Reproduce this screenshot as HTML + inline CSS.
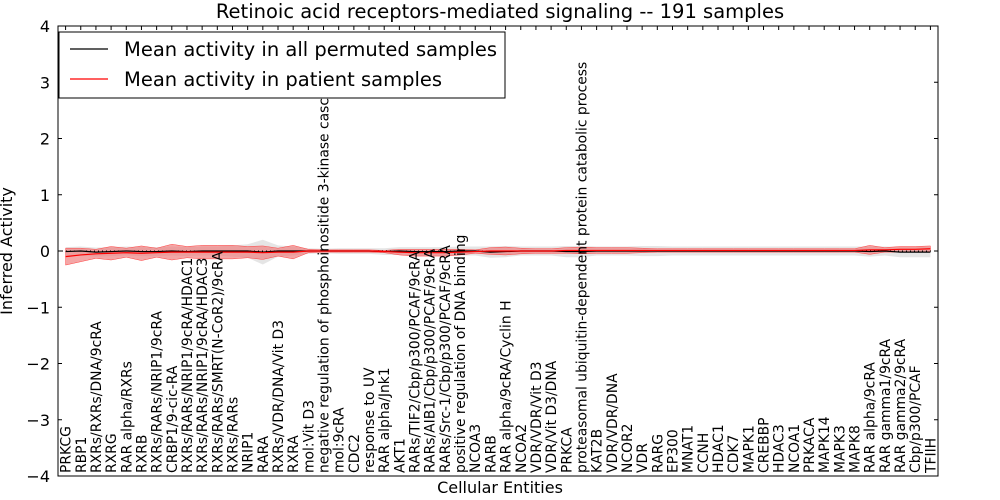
<!DOCTYPE html>
<html><head><meta charset="utf-8"><style>
body{margin:0;background:#fff;}
svg{display:block;font-family:"DejaVu Sans","Liberation Sans",sans-serif;}
</style></head><body>
<svg id="chart" width="1000" height="500">
<rect width="1000" height="500" fill="#fff"/>
<text x="500" y="18" font-size="19.5" text-anchor="middle">Retinoic acid receptors-mediated signaling -- 191 samples</text>
<g id="bands"></g>
<g id="lines"></g>
<g id="axes"></g>
<g id="xlabels"></g>
<text x="500" y="493" font-size="16" text-anchor="middle">Cellular Entities</text>
<text transform="translate(12,251) rotate(-90)" font-size="16" text-anchor="middle">Inferred Activity</text>
<g>
<rect x="59" y="32" width="446" height="66" fill="#fff" stroke="#000" stroke-width="1"/>
<line x1="70" y1="49" x2="108" y2="49" stroke="#000" stroke-width="1.2"/>
<text x="124" y="56" font-size="19.5">Mean activity in all permuted samples</text>
<line x1="70" y1="79" x2="108" y2="79" stroke="#f00" stroke-width="1.2"/>
<text x="124" y="86" font-size="19.5">Mean activity in patient samples</text>
</g>
</svg>
<script>
const categories=["PRKCG","RBP1","RXRs/RXRs/DNA/9cRA","RXRG","RAR alpha/RXRs","RXRB","RXRs/RARs/NRIP1/9cRA","CRBP1/9-cic-RA","RXRs/RARs/NRIP1/9cRA/HDAC1","RXRs/RARs/NRIP1/9cRA/HDAC3","RXRs/RARs/SMRT(N-CoR2)/9cRA","RXRs/RARs","NRIP1","RARA","RXRs/VDR/DNA/Vit D3","RXRA","mol:Vit D3","negative regulation of phosphoinositide 3-kinase casc","mol:9cRA","CDC2","response to UV","RAR alpha/Jnk1","AKT1","RARs/TIF2/Cbp/p300/PCAF/9cRA","RARs/AIB1/Cbp/p300/PCAF/9cRA","RARs/Src-1/Cbp/p300/PCAF/9cRA","positive regulation of DNA binding","NCOA3","RARB","RAR alpha/9cRA/Cyclin H","NCOA2","VDR/VDR/Vit D3","VDR/Vit D3/DNA","PRKCA","proteasomal ubiquitin-dependent protein catabolic process","KAT2B","VDR/VDR/DNA","NCOR2","VDR","RARG","EP300","MNAT1","CCNH","HDAC1","CDK7","MAPK1","CREBBP","HDAC3","NCOA1","PRKACA","MAPK14","MAPK3","MAPK8","RAR alpha/9cRA","RAR gamma1/9cRA","RAR gamma2/9cRA","Cbp/p300/PCAF","TFIIH"];
const patMean=[-0.1,-0.07,-0.05,-0.04,-0.03,-0.04,-0.03,-0.02,-0.02,-0.02,-0.02,-0.02,-0.02,-0.03,-0.02,-0.02,0,0,0,0,0,-0.01,-0.02,-0.03,-0.03,-0.03,-0.02,-0.01,0,0,0,0,0,0.01,0.01,0.01,0.01,0.01,0.01,0.01,0.01,0.01,0.01,0.01,0.01,0.01,0.01,0.01,0.01,0.01,0.01,0.01,0.01,0.02,0.02,0.03,0.03,0.04];
const patHalf=[0.15,0.12,0.08,0.12,0.08,0.13,0.08,0.14,0.1,0.12,0.12,0.12,0.1,0.12,0.07,0.12,0.03,0.02,0.02,0.02,0.02,0.02,0.05,0.06,0.06,0.06,0.05,0.03,0.06,0.07,0.05,0.04,0.04,0.05,0.06,0.05,0.05,0.05,0.04,0.03,0.03,0.03,0.03,0.03,0.03,0.03,0.03,0.03,0.03,0.03,0.03,0.03,0.03,0.08,0.04,0.05,0.05,0.05];
const permMean=[-0.01,0,-0.02,-0.01,0,-0.01,-0.01,0,-0.01,0,0,0,0,-0.02,0,0,0,0,0,0,0,-0.01,0,-0.01,-0.01,-0.01,0,0,-0.02,-0.01,0,0,0,-0.01,-0.01,0,0,0,0,0,0,0,0,0,0,0,0,0,0,0,0,0,0,-0.01,0,-0.02,-0.02,-0.02];
const permHalf=[0.08,0.08,0.08,0.08,0.08,0.08,0.08,0.08,0.08,0.08,0.08,0.1,0.12,0.22,0.1,0.08,0.05,0.04,0.05,0.05,0.05,0.06,0.07,0.08,0.08,0.08,0.08,0.08,0.1,0.1,0.08,0.08,0.08,0.1,0.1,0.08,0.08,0.08,0.09,0.09,0.08,0.08,0.08,0.08,0.08,0.08,0.08,0.08,0.08,0.08,0.08,0.08,0.08,0.09,0.08,0.09,0.09,0.09];
const yTicks=[4,3,2,1,0,-1,-2,-3,-4];

const NS="http://www.w3.org/2000/svg";
const L=58,R=938,T=26,B=476;
const xs=i=>L+(R-L)*(i+0.5)/categories.length;
const ys=v=>T+(4-v)*(B-T)/8;
function mk(tag,attrs,parent){const e=document.createElementNS(NS,tag);for(const k in attrs)e.setAttribute(k,attrs[k]);parent.appendChild(e);return e;}
const bands=document.getElementById('bands'),lines=document.getElementById('lines'),axes=document.getElementById('axes'),xl=document.getElementById('xlabels');
function band(m,h){let up=m.map((v,i)=>xs(i)+','+ys(v+h[i]));let dn=m.map((v,i)=>xs(i)+','+ys(v-h[i])).reverse();return up.concat(dn).join(' ');}
let g1=mk('polygon',{points:band(permMean,permHalf),fill:'#d4d4d4','fill-opacity':'0.6',stroke:'none'},bands);


let g2=mk('polygon',{points:band(patMean,patHalf),fill:'#f08080','fill-opacity':'0.7',stroke:'#f44','stroke-width':'0.5'},bands);


let z=mk('line',{x1:L,x2:R,y1:ys(0),y2:ys(0),stroke:'#000','stroke-dasharray':'1,3','stroke-width':'1'},lines);


let l1=mk('polyline',{points:permMean.map((v,i)=>xs(i)+','+ys(v)).join(' '),fill:'none',stroke:'#000','stroke-width':'1.2'},lines);


let l2=mk('polyline',{points:patMean.map((v,i)=>xs(i)+','+ys(v)).join(' '),fill:'none',stroke:'#f00','stroke-width':'1.2'},lines);


let fr=mk('rect',{x:L,y:T,width:R-L,height:B-T,fill:'none',stroke:'#000','stroke-width':'1'},axes);


yTicks.forEach(v=>{
  mk('line',{x1:L,x2:L+4,y1:ys(v),y2:ys(v),stroke:'#000'},axes);
  mk('line',{x1:R-4,x2:R,y1:ys(v),y2:ys(v),stroke:'#000'},axes);
  let t=mk('text',{x:L-8,y:ys(v)+6,'font-size':'16','text-anchor':'end'},axes);
  t.textContent=(v<0?'\u2212'+(-v):v);
  
  
});
categories.forEach((c,i)=>{
  mk('line',{x1:xs(i),x2:xs(i),y1:T,y2:T+4,stroke:'#000'},axes);
  let t=mk('text',{transform:`translate(${xs(i)+5},473) rotate(-90)`,'font-size':'13.9'},xl);
  t.textContent=c;
  
  
});
</script>
</body></html>
